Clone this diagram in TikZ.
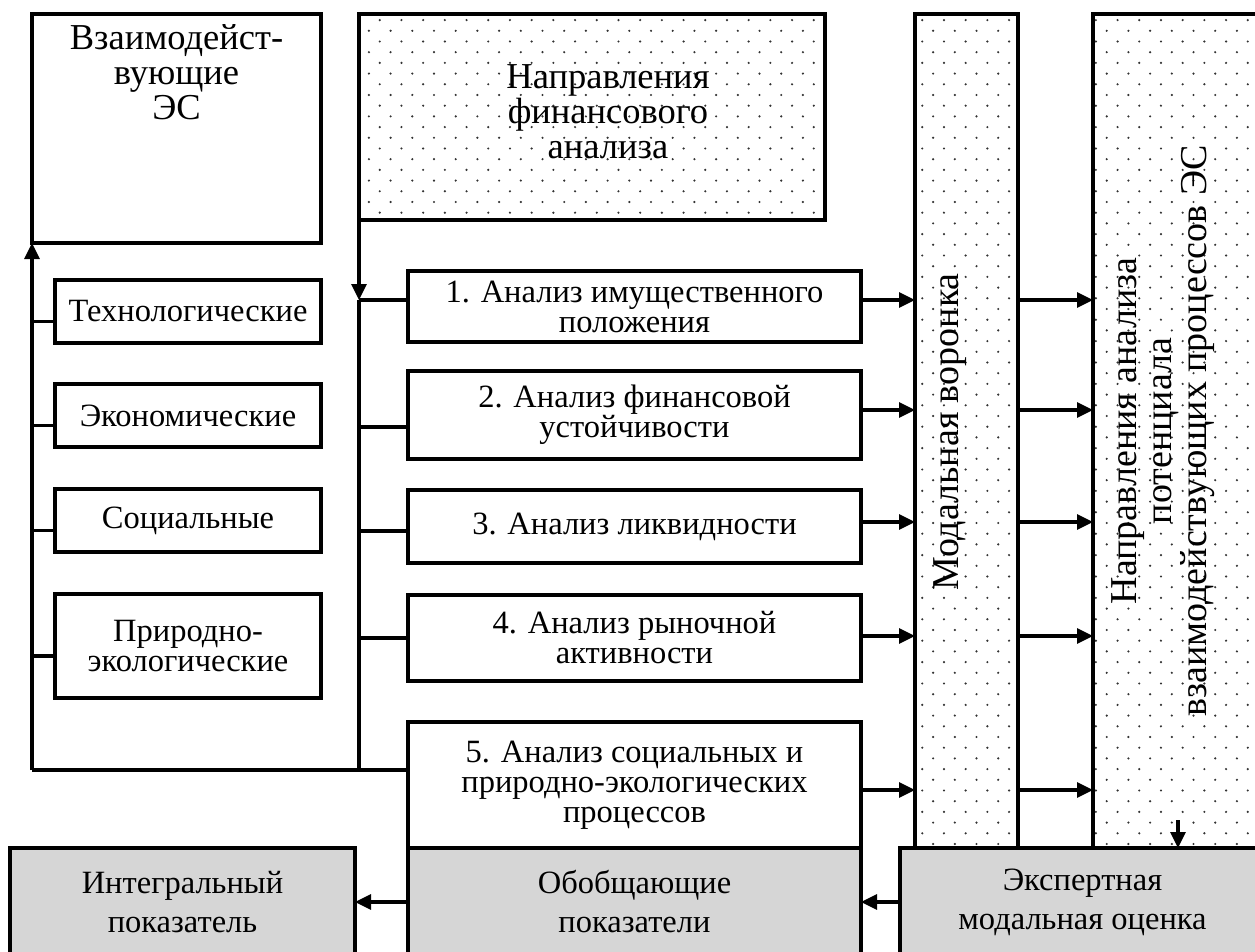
\documentclass[tikz,border=0pt]{standalone}
\usepackage{fontspec}
\setmainfont{Liberation Serif}
\usetikzlibrary{arrows.meta,patterns}

\pgfdeclarepatternformonly{stagdots}{\pgfqpoint{-2pt}{-2pt}}{\pgfqpoint{13pt}{13pt}}{\pgfqpoint{21.7pt}{21.4pt}}{%
  \pgfpathcircle{\pgfqpoint{0pt}{0pt}}{1.2pt}%
  \pgfpathcircle{\pgfqpoint{10.85pt}{10.7pt}}{1.2pt}%
  \pgfusepath{fill}}

\begin{document}
\begin{tikzpicture}[x=1pt,y=-1pt,line width=3.2pt,>={Triangle[length=16pt,width=15pt]},
  box/.style={draw,rectangle,inner sep=0pt,outer sep=0pt,align=center,font=\fontsize{32.5}{30}\selectfont},
  dotbox/.style={box,pattern=stagdots,pattern color=black!80},
  greybox/.style={box,fill=black!16,font=\fontsize{32.5}{39}\selectfont},
  title/.style={inner sep=0pt,align=center,font=\fontsize{36.5}{35}\selectfont}]
\useasboundingbox (0,0) rectangle (1255,951);
\clip (0,0) rectangle (1255,951);

\node[box,minimum width=289,minimum height=229] (es) at (176.5,128.5) {};
\node[title,anchor=north] (estext) at (176.5,23) {Взаимодейст-\\вующие\\ЭС};
\node[dotbox,minimum width=466,minimum height=206] (fin) at (592,117) {};
\node[title] (fintext) at (608,112) {Направления\\финансового\\анализа};
\node[dotbox,minimum width=103,minimum height=834] (modal) at (966.5,431) {};
\node[title,rotate=90,font=\fontsize{38}{35}\selectfont] (modaltext) at (950,432) {Модальная воронка};
\node[dotbox,minimum width=182,minimum height=834] (potent) at (1184,431) {};
\node[title,rotate=90,font=\fontsize{38}{35}\selectfont] (potenttext) at (1163,431) {Направления анализа\\потенциала\\взаимодействующих процессов ЭС};

\node[box,minimum width=266,minimum height=63] (tech) at (188,311.5) {Технологические};
\node[box,minimum width=266,minimum height=63] (econ) at (188,415.5) {Экономические};
\node[box,minimum width=266,minimum height=63] (soc) at (188,520.5) {Социальные};
\node[box,minimum width=266,minimum height=104] (nat) at (188,646) {Природно-\\экологические};

\node[box,minimum width=453,minimum height=71] (an1) at (634.5,306.5) {1. Анализ имущественного\\положения};
\node[box,minimum width=453,minimum height=88] (an2) at (634.5,415) {2. Анализ финансовой\\устойчивости};
\node[box,minimum width=453,minimum height=73] (an3) at (634.5,526.5) {3. Анализ ликвидности};
\node[box,minimum width=453,minimum height=86] (an4) at (634.5,638) {4. Анализ рыночной\\активности};
\node[box,minimum width=453,minimum height=126] (an5) at (634.5,785) {5. Анализ социальных и\\природно-экологических\\процессов};

\node[greybox,minimum width=345,minimum height=108] (integ) at (182.5,902) {Интегральный\\показатель};
\node[greybox,minimum width=453,minimum height=108] (obob) at (634.5,902) {Обобщающие\\показатели};
\node[greybox,minimum width=365,minimum height=108] (expert) at (1082.5,902) {Экспертная\\модальная оценка};

\coordinate (lbus) at (32,770);
\coordinate (mtop) at (359,300);
\coordinate (mbus) at (359,770);
\coordinate (drop) at (1178,820);

\draw[->] (lbus) -- (es.south west);
\draw ([yshift=-10pt]tech.west) -- ++(-23,0);
\draw ([yshift=-10pt]econ.west) -- ++(-23,0);
\draw ([yshift=-10pt]soc.west) -- ++(-23,0);
\draw ([yshift=-10pt]nat.west) -- ++(-23,0);

\draw[->] (fin.south west) -- (mtop);
\draw (mtop) -- (mbus);
\draw (mtop) -- (mtop -| an1.west);
\draw ([yshift=-12pt]an2.west) -- ++(-49,0);
\draw ([yshift=-4.5pt]an3.west) -- ++(-49,0);
\draw (an4.west) -- ++(-49,0);
\draw (lbus) -- (lbus -| an5.west);

\draw[->] ([yshift=6.5pt]an1.east) -- ++(54,0);
\draw[->] ([yshift=5pt]an2.east) -- ++(54,0);
\draw[->] ([yshift=4.5pt]an3.east) -- ++(54,0);
\draw[->] ([yshift=2pt]an4.east) -- ++(54,0);
\draw[->] ([yshift=-5pt]an5.east) -- ++(54,0);

\draw[->] ([yshift=131pt]modal.east) -- ++(75,0);
\draw[->] ([yshift=21pt]modal.east) -- ++(75,0);
\draw[->] ([yshift=-91pt]modal.east) -- ++(75,0);
\draw[->] ([yshift=-205pt]modal.east) -- ++(75,0);
\draw[->] ([yshift=-359pt]modal.east) -- ++(75,0);

\draw[->] (drop) -- (drop |- expert.north);
\draw[->] (expert.west) -- (obob.east);
\draw[->] (obob.west) -- (integ.east);
\end{tikzpicture}
\end{document}
